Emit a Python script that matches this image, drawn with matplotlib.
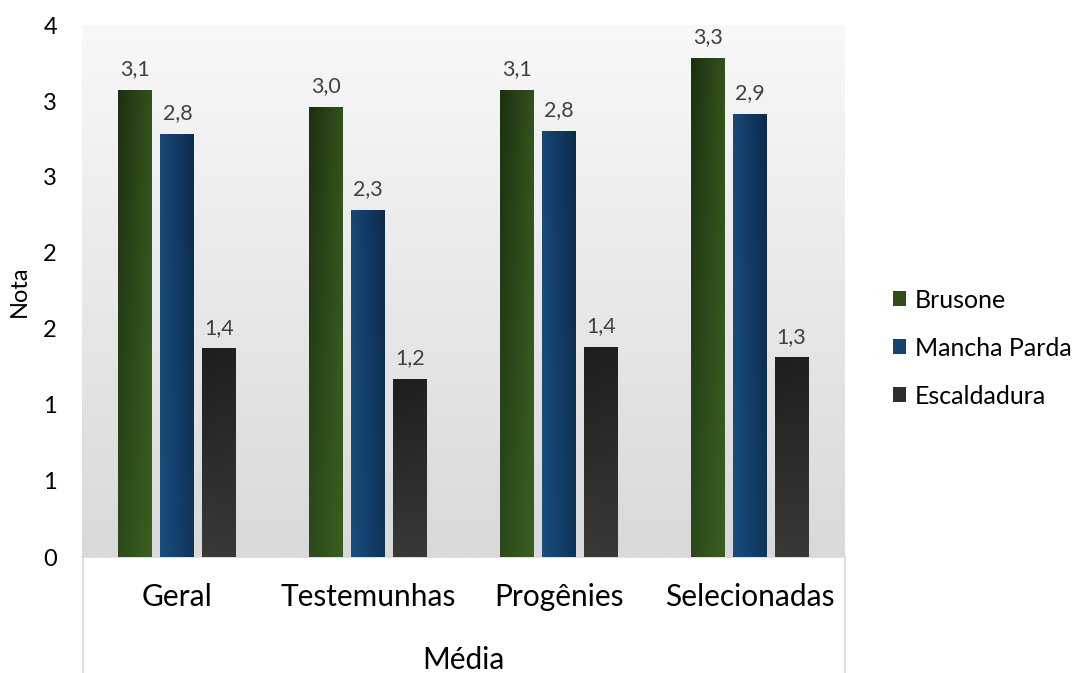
import numpy as np
import matplotlib
matplotlib.use("Agg")
import matplotlib.pyplot as plt
from matplotlib.lines import Line2D
from matplotlib.patches import Patch
from matplotlib.ticker import FuncFormatter, MultipleLocator

plt.rcParams["font.family"] = ["Lato", "DejaVu Sans"]

categories = ["Geral", "Testemunhas", "Progênies", "Selecionadas"]
series = ["Brusone", "Mancha Parda", "Escaldadura"]
brusone = [3.07, 2.96, 3.07, 3.28]
mancha_parda = [2.78, 2.28, 2.80, 2.91]
escaldadura = [1.37, 1.17, 1.38, 1.31]
values = [brusone, mancha_parda, escaldadura]

# corner colours of each bar's gradient: top-left, top-right, bottom-left, bottom-right
grads = [
    ("#1d3010", "#33521d", "#2b4a1a", "#3a5e22"),
    ("#174878", "#0c2b4c", "#184e80", "#0f3458"),
    ("#1e1e1e", "#202020", "#3a3937", "#3a3836"),
]
legend_colors = ["#2f4c1b", "#164470", "#2e2e2e"]


def hex2rgb(h):
    return np.array([int(h[i:i + 2], 16) / 255 for i in (1, 3, 5)])


def gradient(tl, tr, bl, br, n=64):
    tl, tr, bl, br = map(hex2rgb, (tl, tr, bl, br))
    u = np.linspace(0, 1, n)[None, :, None]
    v = np.linspace(0, 1, n)[:, None, None]
    top = tl * (1 - u) + tr * u
    bot = bl * (1 - u) + br * u
    return top * (1 - v) + bot * v


W, H = 1076, 673
fig = plt.figure(figsize=(W / 100, H / 100), dpi=100)
ax = fig.add_axes([82 / W, 1 - 557 / H, (845 - 82) / W, (557 - 25) / H])

# plot-area background gradient
bg = np.linspace(0, 1, 128)[:, None, None]
bg_img = hex2rgb("#f8f8f8") * (1 - bg) + hex2rgb("#d9d9d9") * bg
ax.imshow(np.repeat(bg_img, 2, axis=1), extent=(0, 1, 0, 1), transform=ax.transAxes,
          aspect="auto", zorder=0, interpolation="bilinear")

x = np.arange(len(categories))
width = 0.178
step = 0.22
for i, (vals, g) in enumerate(zip(values, grads)):
    bars = ax.bar(x + (i - 1) * step, vals, width, color=legend_colors[i], zorder=2)
    img = gradient(*g)
    for b, v in zip(bars, vals):
        x0 = b.get_x()
        ax.imshow(img, extent=(x0, x0 + b.get_width(), 0, b.get_height()), aspect="auto",
                  zorder=3, interpolation="bilinear", origin="upper")
        ax.annotate(f"{v:.1f}".replace(".", ","), (x0 + b.get_width() / 2, v),
                    xytext=(0, 8), textcoords="offset points", ha="center", va="bottom",
                    fontsize=15.5, color="#404040", zorder=4)

ax.set_xlim(-0.5, len(categories) - 0.5)
ax.set_ylim(0, 3.5)
ax.yaxis.set_major_locator(MultipleLocator(0.5))
ax.yaxis.set_major_formatter(FuncFormatter(lambda v, p: f"{int(np.floor(v + 0.5))}"))
ax.set_xticks(x)
ax.set_xticklabels(categories, fontsize=21.5)
ax.tick_params(axis="x", length=0, pad=19)
ax.tick_params(axis="y", length=0, pad=18, labelsize=17)
for s in ["left", "top", "right"]:
    ax.spines[s].set_visible(False)
ax.spines["bottom"].set_color("#d9d9d9")
ax.spines["bottom"].set_linewidth(1.2)
ax.set_ylabel("Nota", fontsize=17)
ax.yaxis.set_label_coords(-0.068, 0.5)

# multi-level category axis frame
for px in (82.5, 844.5):
    fig.add_artist(Line2D([px / W, px / W], [0, 1 - 557 / H], transform=fig.transFigure,
                          color="#d9d9d9", lw=1.2))
fig.text(463 / W, 1 - 660 / H, "Média", ha="center", va="center", fontsize=21.5)

handles = [Patch(facecolor=c, edgecolor="none") for c in legend_colors]
fig.legend(handles, series, loc="center left", bbox_to_anchor=(870 / W, 1 - 348 / H),
           frameon=False, fontsize=18, handlelength=0.55, handleheight=0.55,
           handletextpad=0.35, labelspacing=1.0)

fig.savefig("out.png", dpi=100)
